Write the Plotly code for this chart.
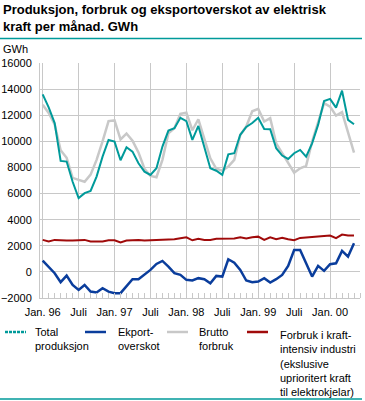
import plotly.graph_objects as go

# ---- data (GWh per month, Jan 1996 - May 2000) ----
months = list(range(53))  # 0 = Jan 96
tick_vals = [0, 6, 12, 18, 24, 30, 36, 42, 48]
tick_text = ["Jan. 96", "Juli", "Jan. 97", "Juli", "Jan. 98", "Juli", "Jan. 99", "Juli", "Jan. 00"]

total_produksjon = [13600, 12600, 11400, 8500, 8450, 6900, 5650, 6030, 6200, 7300,
                    8830, 10100, 9980, 8550, 9550, 9210, 8320, 7680, 7430, 7940,
                    9600, 10820, 11000, 11800, 11550, 10110, 11180, 9500, 7940, 7750,
                    7430, 9000, 9090, 10500, 11100, 11400, 11800, 10950, 10920, 9470,
                    8910, 8650, 9090, 9340, 8830, 9850, 11260, 13080, 13250, 12580,
                    13880, 11640, 11310]
eksportoverskot = [870, 410, -100, -790, -280, -1000, -1380, -1000, -1510, -1580,
                   -1250, -1510, -1630, -1630, -1120, -560, -560, -230, 150, 610,
                   840, 410, -100, -230, -610, -660, -480, -560, -870, -310,
                   -360, 970, 710, 150, -660, -790, -740, -480, -820, -560,
                   -230, 460, 1680, 1680, 660, -360, 460, 80, 590, 660,
                   1610, 1170, 2190]
brutto_forbruk = [12800, 12170, 11300, 9320, 8740, 7200, 7050, 6900, 7450, 8580,
                  10000, 11550, 11600, 10150, 10600, 10050, 9150, 7900, 7350, 7250,
                  8580, 10620, 11000, 12100, 12200, 10850, 11690, 10110, 8700, 7900,
                  7750, 8060, 8580, 10490, 11130, 12300, 12480, 11510, 11770, 9850,
                  9090, 8320, 7600, 7940, 8120, 9980, 11380, 12920, 12660, 11970,
                  12230, 10620, 9140]
kraftintensiv = [2450, 2330, 2450, 2400, 2400, 2400, 2420, 2450, 2330, 2330,
                 2330, 2420, 2420, 2250, 2400, 2420, 2450, 2400, 2420, 2450,
                 2450, 2500, 2500, 2580, 2650, 2420, 2530, 2450, 2450, 2530,
                 2530, 2530, 2550, 2650, 2550, 2650, 2700, 2450, 2650, 2500,
                 2620, 2500, 2420, 2600, 2650, 2650, 2700, 2750, 2780, 2580,
                 2860, 2780, 2780]

TEAL = "#009a9a"
BLUE = "#0a3d9c"
GRAY = "#c8c8c8"
RED = "#a00a0a"
GRID = "#c8c8c8"
FONT = "Liberation Sans, Arial, sans-serif"

W, H = 365, 401
L, R, T, B = 40, 5, 63, 103
PW, PH = W - L - R, H - T - B


def px(xp):
    return (xp - L) / PW


def py(yp):
    return (H - B - yp) / PH


fig = go.Figure()
fig.add_trace(go.Scatter(x=months, y=brutto_forbruk, mode="lines",
                         line=dict(color=GRAY, width=2.5), name="Brutto forbruk"))
fig.add_trace(go.Scatter(x=months, y=kraftintensiv, mode="lines",
                         line=dict(color=RED, width=2), name="Forbruk i kraftintensiv industri"))
fig.add_trace(go.Scatter(x=months, y=eksportoverskot, mode="lines",
                         line=dict(color=BLUE, width=2.5), name="Ekportoverskot"))
fig.add_trace(go.Scatter(x=months, y=total_produksjon, mode="lines",
                         line=dict(color=TEAL, width=2), name="Total produksjon"))

fig.update_layout(
    width=W, height=H,
    margin=dict(l=L, r=R, t=T, b=B, pad=0, autoexpand=False),
    paper_bgcolor="white", plot_bgcolor="white",
    showlegend=False,
    font=dict(family=FONT, size=11, color="black"),
    xaxis=dict(range=[-0.45, 53.0], tickmode="array", tickvals=tick_vals, ticktext=tick_text,
               showgrid=True, gridcolor=GRID, gridwidth=1, zeroline=False,
               showline=True, linecolor=GRID, linewidth=1, automargin=False,
               ticks="", tickfont=dict(size=11), ticklabelstandoff=4,
               minor=dict(tick0=0, dtick=1, ticks="inside", ticklen=5, tickcolor=GRID,
                          tickwidth=1, showgrid=False)),
    yaxis=dict(range=[-2000, 16000], dtick=2000, tickformat="d", showgrid=True,
               gridcolor=GRID, gridwidth=1, automargin=False,
               zeroline=False, showline=True, linecolor=GRID, linewidth=1,
               ticks="", tickfont=dict(size=11), ticklabelstandoff=5),
)

ann = []
ann.append(dict(text="<b>Produksjon, forbruk og eksportoverskot av elektrisk<br>kraft per månad. GWh</b>",
                x=px(1), y=py(0), xref="paper", yref="paper", xanchor="left", yanchor="top",
                align="left", showarrow=False, font=dict(size=13, family=FONT)))
ann.append(dict(text="GWh", x=px(1), y=py(49), xref="paper", yref="paper",
                xanchor="left", yanchor="middle", showarrow=False, font=dict(size=11)))

shapes = []
for yy in (38.5, 399):
    shapes.append(dict(type="line", xref="paper", yref="paper", x0=px(0), x1=px(362),
                       y0=py(yy), y1=py(yy), line=dict(color=TEAL, width=1.5)))

legend_items = [
    (TEAL, 5, 33, "Total<br>produksjon", 324),
    (BLUE, 85, 116, "Ekport-<br>overskot", 324),
    (GRAY, 167, 197, "Brutto<br>forbruk", 324),
    (RED, 247, 278, "Forbruk i kraft-<br>intensiv industri<br>(ekslusive<br>uprioritert kraft<br>til elektrokjelar)", 327),
]
for color, sx, tx, label, ty in legend_items:
    shapes.append(dict(type="line", xref="paper", yref="paper", x0=px(sx), x1=px(sx + 21),
                       y0=py(332), y1=py(332),
                       line=dict(color=color, width=2.5, dash="3px,1px" if color == TEAL else "solid")))
    ann.append(dict(text=label, x=px(tx), y=py(ty), xref="paper", yref="paper",
                    xanchor="left", yanchor="top", align="left", showarrow=False,
                    font=dict(size=11)))

fig.update_layout(annotations=ann, shapes=shapes)
fig.write_html("out.html", config={"displayModeBar": False},
               post_script="document.body.style.margin='0';document.body.style.padding='0';")
